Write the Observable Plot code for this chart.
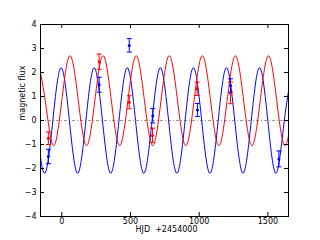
<!DOCTYPE html>
<html>
<head>
<meta charset="utf-8">
<script src="https://cdn.jsdelivr.net/npm/d3@7"></script>
<script src="https://cdn.jsdelivr.net/npm/@observablehq/plot@0.6"></script>
<style>
html, body { margin: 0; padding: 0; background: #fff; }
</style>
</head>
<body>
<div id="chart"></div>
<script>
// Blue model curve: key points (extrema and zero crossings)
const blueT = [-185.5, -125.4, -65.2, -5, 55.2, 115.4, 175.5, 235.7, 295.9, 356.1, 416.2, 476.4, 536.6, 596.8, 656.9, 717.1, 777.3, 837.5, 897.6, 957.8, 1018, 1078.2, 1138.3, 1198.5, 1258.7, 1318.9, 1379, 1439.2, 1499.4, 1559.6, 1619.7, 1679.9];
const blueV = [0, -2.2, 0, 2.2, 0, -2.2, 0, 2.2, 0, -2.2, 0, 2.2, 0, -2.2, 0, 2.2, 0, -2.2, 0, 2.2, 0, -2.2, 0, 2.2, 0, -2.2, 0, 2.2, 0, -2.2, 0, 2.2];
// Red model curve key points
const redT = [-180.7, -120.5, -60.4, -0.2, 60, 120.2, 180.4, 240.5, 300.7, 360.9, 421.1, 481.2, 541.4, 601.6, 661.8, 721.9, 782.1, 842.3, 902.5, 962.6, 1022.8, 1083, 1143.2, 1203.3, 1263.5, 1323.7, 1383.9, 1444, 1504.2, 1564.4, 1624.6, 1684.7];
const redV = [2.7, 0.825, -1.05, 0.825, 2.7, 0.825, -1.05, 0.825, 2.7, 0.825, -1.05, 0.825, 2.7, 0.825, -1.05, 0.825, 2.7, 0.825, -1.05, 0.825, 2.7, 0.825, -1.05, 0.825, 2.7, 0.825, -1.05, 0.825, 2.7, 0.825, -1.05, 0.825];
// Observations
const redObsT = [-98, 272, 491, 660, 985, 1228];
const redObsV = [-0.74, 2.45, 0.76, -0.62, 1.32, 1.15];
const redObsE = [0.26, 0.32, 0.27, 0.3, 0.28, 0.45];
const blueObsT = [-98, 272, 491, 662, 987, 1228, 1580];
const blueObsV = [-1.5, 1.49, 3.13, 0.2, 0.44, 1.46, -1.6];
const blueObsE = [0.3, 0.31, 0.28, 0.3, 0.27, 0.28, 0.33];
// Axes
const xTicks = [0, 500, 1000, 1500];
const yTicks = [-4, -3, -2, -1, 0, 1, 2, 3, 4];
const xDomain = [-155, 1650];
const yDomain = [-4, 4];
const xLabel = "HJD  +2454000";
const yLabel = "magnetic flux";

const BLUE = "#0000ff", RED = "#ff0000";
const blue = blueT.map((t, i) => ({t, v: blueV[i]}));
const red = redT.map((t, i) => ({t, v: redV[i]}));
const redObs = redObsT.map((t, i) => ({t, v: redObsV[i], e: redObsE[i]}));
const blueObs = blueObsT.map((t, i) => ({t, v: blueObsV[i], e: blueObsE[i]}));

const cap = {draw(ctx, size) { const r = Math.sqrt(size / Math.PI); ctx.moveTo(-r, 0); ctx.lineTo(r, 0); }};

function errMarks(data, color) {
  return [
    Plot.ruleX(data, {x: "t", y1: d => d.v - d.e, y2: d => d.v + d.e, stroke: color, strokeWidth: 1}),
    Plot.dot(data, {x: "t", y: d => d.v - d.e, symbol: cap, r: 2.5, stroke: color, fill: "none", strokeWidth: 1}),
    Plot.dot(data, {x: "t", y: d => d.v + d.e, symbol: cap, r: 2.5, stroke: color, fill: "none", strokeWidth: 1}),
    Plot.dot(data, {x: "t", y: "v", r: 1.5, fill: color, stroke: null})
  ];
}

const chart = Plot.plot({
  width: 320, height: 240,
  marginLeft: 40, marginRight: 32, marginTop: 24, marginBottom: 24,
  x: {domain: xDomain},
  y: {domain: yDomain},
  style: {fontFamily: "DejaVu Sans", fontSize: "8px", background: "white", color: "black"},
  marks: [
    Plot.ruleY([0], {stroke: "#999", strokeDasharray: "3,2,1,2", strokeWidth: 1}),
    Plot.line(blue, {x: "t", y: "v", curve: "natural", stroke: BLUE, strokeWidth: 1, clip: true}),
    Plot.line(red, {x: "t", y: "v", curve: "natural", stroke: RED, strokeWidth: 1, clip: true}),
    ...errMarks(redObs, RED),
    ...errMarks(blueObs, BLUE),
    Plot.frame({stroke: "black", strokeWidth: 1}),
    Plot.tickX(xTicks, {x: d => d, insetTop: 188, stroke: "black"}),
    Plot.tickX(xTicks, {x: d => d, insetBottom: 188, stroke: "black"}),
    Plot.tickY(yTicks, {y: d => d, insetLeft: 244, stroke: "black"}),
    Plot.tickY(yTicks, {y: d => d, insetRight: 244, stroke: "black"}),
    Plot.axisX(xTicks, {tickSize: 0, tickPadding: 2, label: null, tickFormat: d => String(d)}),
    Plot.axisY(yTicks, {tickSize: 0, tickPadding: 4, label: null}),
    Plot.text([xLabel], {frameAnchor: "bottom", lineAnchor: "middle", dy: 13, dx: 2, fontSize: 8}),
    Plot.text([yLabel], {frameAnchor: "left", lineAnchor: "middle", dx: -18, rotate: -90, fontSize: 8})
  ]
});
document.getElementById("chart").appendChild(chart);
</script>
</body>
</html>
